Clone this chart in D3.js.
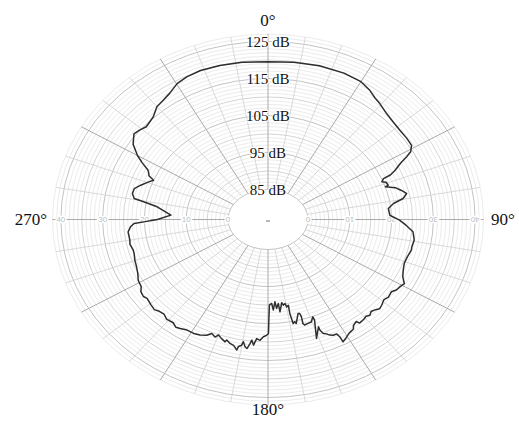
<!DOCTYPE html>
<html>
<head>
<meta charset="utf-8">
<title>Polar pattern</title>
<style>
  body { margin: 0; background: #fff; }
  svg { display: block; }
</style>
</head>
<body>
<script src="https://cdn.jsdelivr.net/npm/d3@7/dist/d3.min.js"></script>
<script>
// measured response, clockwise from 0° (path order)
var angleDeg = [0, 8, 16, 24, 30, 34, 37, 39.5, 43.7, 47.6, 51.6, 55.6, 58.8, 60.9, 62, 63.5, 65.4, 66.7, 67.2, 68.5,
  69.5, 71.3, 71.7, 73.5, 75.4, 77.5, 79.6, 81.4, 83.8, 87.6, 90.3, 92.8, 95.7, 99.4, 102.7, 104.1, 107.4, 110.8, 113.8, 116.6,
  118.9, 120.7, 122.9, 124.6, 127.2, 129.1, 131.6, 133.2, 134.6, 136.4, 137.9, 139.3, 140.8, 143.1, 143.7, 145.6, 146.4, 148.6, 150.7, 152.4,
  152.5, 153, 154.4, 155.6, 156.5, 157.6, 158.3, 158.3, 160.9, 158.7, 158.8, 160.4, 162, 163.7, 164.2, 163.9, 164.2, 165, 167.1, 167.6,
  168.5, 169, 168.8, 169.9, 170.4, 171.5, 172.2, 173.8, 174.2, 175.4, 176, 177.2, 177.9, 179.2, 179.6, 179.8, 180.6, 181.9, 183.2, 184.6,
  185.6, 186.5, 187, 187.9, 188.7, 189.7, 190.1, 191.2, 191.5, 193.1, 194.6, 196.2, 196.6, 198.3, 200, 200.9, 202.7, 204.2, 206.5, 209,
  211.9, 214.4, 216, 218, 220.9, 223, 225.2, 227, 229.5, 232.5, 234, 236.3, 238, 241.1, 244, 247, 250.2, 253, 255, 258,
  260, 264, 266.4, 268, 268.7, 270, 273.1, 277.8, 279.6, 280.5, 282.8, 285.3, 287.7, 290.5, 292.2, 293.5, 294.6, 296, 298, 300,
  303.2, 306.8, 309.2, 311.8, 316.3, 319.9, 323.2, 326.4, 330.2, 334, 338.8, 345, 352, 360];
var levelDb = [119.5, 119.8, 120.1, 120.2, 119.9, 119.0, 118.0, 117.5, 116.5, 116.0, 115.7, 115.7, 115.6, 114.5, 113.0, 110.8, 108.9, 107.3, 105.4, 104.7,
  105.6, 105.8, 105.0, 107.2, 108.3, 109.4, 108.3, 105.8, 104.4, 104.6, 106.9, 108.5, 110.3, 110.9, 110.7, 110.8, 110.4, 110.3, 110.8, 111.5,
  112.7, 112.3, 112.0, 111.3, 111.6, 111.2, 111.8, 112.1, 111.6, 111.2, 111.8, 111.4, 111.7, 111.9, 111.1, 111.6, 112.4, 112.8, 113.6, 114.2,
  112.6, 111.6, 111.6, 111.2, 110.6, 110.2, 109.1, 108.1, 110.9, 106.1, 105.1, 106.3, 106.4, 106.6, 106.1, 104.3, 103.3, 103.2, 105.7, 105.2,
  105.6, 102.7, 100.5, 100.9, 99.9, 100.3, 99.6, 102.0, 99.7, 101.0, 99.2, 101.4, 99.6, 100.0, 104.0, 107.7, 108.2, 108.6, 109.6, 109.2,
  111.0, 109.7, 110.7, 112.1, 111.7, 110.4, 111.4, 111.9, 112.9, 111.8, 111.5, 110.8, 111.4, 110.8, 110.1, 110.9, 110.3, 111.2, 111.8, 112.1,
  112.1, 112.6, 112.9, 112.3, 112.5, 111.9, 112.1, 112.6, 112.3, 111.9, 112.3, 112.0, 111.2, 110.9, 110.1, 109.6, 109.3, 108.9, 108.8, 109.2,
  109.0, 109.1, 108.4, 107.5, 105.1, 101.9, 98.7, 102.2, 105.6, 108.0, 108.7, 108.6, 107.4, 105.9, 105.0, 106.5, 106.8, 107.4, 109.5, 111.5,
  114.0, 115.5, 115.1, 114.5, 115.2, 116.7, 117.2, 117.9, 119.2, 119.8, 120.1, 120.0, 119.8, 119.5];

var dbTicks = [85, 95, 105, 115, 125];
var axisTicks = [0, 10, 20, 30, 40];
var directionLabels = [[0, "0°"], [90, "90°"], [180, "180°"], [270, "270°"]];

var width = 519, height = 421;
var cx = 268, cy = 219.5;
var minDb = 85, maxDb = 127;
var serif = "'Liberation Serif', 'Times New Roman', serif";

// the printed chart is squashed, so horizontal and vertical radii differ
var rx = d3.scaleLinear().domain([minDb, maxDb]).range([40, 215.5]);
var ry = d3.scaleLinear().domain([minDb, maxDb]).range([30, 185.4]);
var rad = function (a) { return a * Math.PI / 180; };
var px = function (a, v) { return cx + Math.sin(rad(a)) * rx(v); };
var py = function (a, v) { return cy - Math.cos(rad(a)) * ry(v); };

var svg = d3.select("body").append("svg")
  .attr("width", width)
  .attr("height", height);

var grid = svg.append("g");

// rings every 1 dB
grid.selectAll("ellipse")
  .data(d3.range(minDb, maxDb + 1))
  .enter()
  .append("ellipse")
  .attr("cx", cx)
  .attr("cy", cy)
  .attr("rx", function (d) { return rx(d); })
  .attr("ry", function (d) { return ry(d); })
  .attr("fill", "none")
  .attr("stroke", function (d) { return (d - minDb) % 10 == 0 ? "#bcbcbc" : (d - minDb) % 5 == 0 ? "#d0d0d0" : "#e3e3e3"; })
  .attr("stroke-width", function (d) { return (d - minDb) % 5 == 0 ? 0.9 : 0.7; });

// spokes every 10°
grid.selectAll("line")
  .data(d3.range(0, 360, 10))
  .enter()
  .append("line")
  .attr("x1", function (a) { return px(a, minDb); })
  .attr("y1", function (a) { return py(a, minDb); })
  .attr("x2", function (a) { return px(a, maxDb); })
  .attr("y2", function (a) { return py(a, maxDb); })
  .attr("stroke", function (a) { return a % 30 == 0 ? "#ababab" : "#d0d0d0"; })
  .attr("stroke-width", function (a) { return a % 30 == 0 ? 1 : 0.8; });

// faint scale numbers along the horizontal axis
var axisLabels = svg.append("g")
  .attr("font-family", "'Liberation Sans', Arial, sans-serif")
  .attr("font-size", 8)
  .attr("fill", "#bdbdbd")
  .attr("text-anchor", "middle");

axisLabels.selectAll("text.left")
  .data(axisTicks)
  .enter()
  .append("text")
  .attr("class", "left")
  .attr("x", function (d) { return px(270, minDb + d); })
  .attr("y", cy)
  .attr("dy", "0.35em")
  .attr("stroke", "#fff")
  .attr("stroke-width", 3)
  .attr("paint-order", "stroke")
  .text(function (d) { return d; });

axisLabels.selectAll("text.right")
  .data(axisTicks)
  .enter()
  .append("text")
  .attr("class", "right")
  .attr("transform", function (d) { return "translate(" + px(90, minDb + d) + "," + cy + ") rotate(180)"; })
  .attr("dy", "0.35em")
  .attr("stroke", "#fff")
  .attr("stroke-width", 3)
  .attr("paint-order", "stroke")
  .text(function (d) { return d; });

// small mark in the middle
svg.append("line")
  .attr("x1", cx - 2).attr("x2", cx + 2)
  .attr("y1", cy + 1.5).attr("y2", cy + 1.5)
  .attr("stroke", "#888")
  .attr("stroke-width", 1.2);

// response curve
var line = d3.line()
  .x(function (d) { return px(d[0], d[1]); })
  .y(function (d) { return py(d[0], d[1]); })
  .curve(d3.curveLinearClosed);

svg.append("path")
  .datum(d3.zip(angleDeg, levelDb))
  .attr("d", line)
  .attr("fill", "none")
  .attr("stroke", "#2e2e2e")
  .attr("stroke-width", 1.5)
  .attr("stroke-linejoin", "round");

// dB labels up the 0° spoke
svg.append("g")
  .selectAll("text")
  .data(dbTicks)
  .enter()
  .append("text")
  .attr("x", cx)
  .attr("y", function (d) { return cy - ry(d); })
  .attr("dy", "0.35em")
  .attr("text-anchor", "middle")
  .attr("font-family", serif)
  .attr("font-size", 15)
  .attr("fill", "#111")
  .attr("stroke", "#fff")
  .attr("stroke-width", 2)
  .attr("paint-order", "stroke")
  .text(function (d) { return d + " dB"; });

// direction labels
var dirPos = { 0: [cx, 20], 90: [503, cy], 180: [cx, 409], 270: [31, cy] };
svg.append("g")
  .selectAll("text")
  .data(directionLabels)
  .enter()
  .append("text")
  .attr("x", function (d) { return dirPos[d[0]][0]; })
  .attr("y", function (d) { return dirPos[d[0]][1]; })
  .attr("dy", "0.35em")
  .attr("text-anchor", "middle")
  .attr("font-family", serif)
  .attr("font-size", 17)
  .attr("fill", "#111")
  .text(function (d) { return d[1]; });
</script>
</body>
</html>
